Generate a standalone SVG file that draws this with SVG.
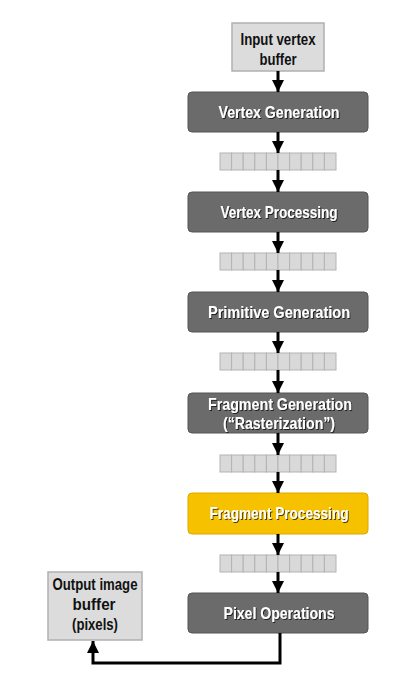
<svg xmlns="http://www.w3.org/2000/svg" width="410" height="689" viewBox="0 0 410 689">
<defs>
<marker id="ah" markerUnits="userSpaceOnUse" markerWidth="14" markerHeight="12" refX="12" refY="6" orient="auto">
<path d="M0,0 L12,6 L0,12 Z" fill="#000"/>
</marker>
<filter id="sh" x="-10%" y="-30%" width="120%" height="160%">
<feDropShadow dx="1" dy="1" stdDeviation="0.6" flood-color="#000" flood-opacity="0.7"/>
</filter>
<g id="q">
<rect x="0" y="0" width="11.6" height="17"/>
<rect x="11.6" y="0" width="11.6" height="17"/>
<rect x="23.2" y="0" width="11.6" height="17"/>
<rect x="34.8" y="0" width="11.6" height="17"/>
<rect x="46.4" y="0" width="11.6" height="17"/>
<rect x="58" y="0" width="11.6" height="17"/>
<rect x="69.6" y="0" width="11.6" height="17"/>
<rect x="81.2" y="0" width="11.6" height="17"/>
<rect x="92.8" y="0" width="11.6" height="17"/>
<rect x="104.4" y="0" width="11.6" height="17"/>
</g>
</defs>
<style>
text{font-family:"Liberation Sans",Arial,sans-serif;font-weight:bold;font-size:16.5px;text-anchor:middle}
.stage rect{fill:#6b6b6b;stroke:#555;stroke-width:1}
.stage text{fill:#fff;filter:url(#sh)}
.hot rect{fill:#f6c200;stroke:#dca800;stroke-width:1}
.hot text{fill:#fff;filter:url(#sh)}
.buf rect{fill:#dcdcdc;stroke:#b0b0b0;stroke-width:1.5}
.buf text{fill:#111;font-size:16px}
.queue use{fill:#d9d9d9;stroke:#b3b3b3;stroke-width:1}
.conn line,.conn path{stroke:#000;stroke-width:3;fill:none}
</style>
<rect width="410" height="689" fill="#fff"/>

<g id="input-buffer" class="buf">
<rect x="232" y="23" width="92" height="48"/>
<text x="278" y="45" textLength="75" lengthAdjust="spacingAndGlyphs">Input vertex</text>
<text x="278" y="65" textLength="37" lengthAdjust="spacingAndGlyphs">buffer</text>
</g>

<g id="vertex-generation" class="stage">
<rect x="188" y="92" width="180" height="40" rx="4"/>
<text x="279" y="118" textLength="121" lengthAdjust="spacingAndGlyphs">Vertex Generation</text>
</g>

<g id="vertex-processing" class="stage">
<rect x="188" y="192" width="180" height="40" rx="4"/>
<text x="279" y="218" textLength="117" lengthAdjust="spacingAndGlyphs">Vertex Processing</text>
</g>

<g id="primitive-generation" class="stage">
<rect x="188" y="292" width="180" height="40" rx="4"/>
<text x="279" y="318" textLength="142" lengthAdjust="spacingAndGlyphs">Primitive Generation</text>
</g>

<g id="fragment-generation" class="stage">
<rect x="188" y="393" width="180" height="40" rx="4"/>
<text x="280" y="410" textLength="144" lengthAdjust="spacingAndGlyphs">Fragment Generation</text>
<text x="279" y="429" textLength="112" lengthAdjust="spacingAndGlyphs">(“Rasterization”)</text>
</g>

<g id="fragment-processing" class="hot">
<rect x="188" y="493" width="180" height="41" rx="4"/>
<text x="279" y="519" textLength="139" lengthAdjust="spacingAndGlyphs">Fragment Processing</text>
</g>

<g id="pixel-operations" class="stage">
<rect x="188" y="593" width="180" height="40" rx="4"/>
<text x="279" y="619" textLength="111" lengthAdjust="spacingAndGlyphs">Pixel Operations</text>
</g>

<g id="output-buffer" class="buf">
<rect x="48" y="572" width="94" height="68"/>
<text x="95" y="590" textLength="85" lengthAdjust="spacingAndGlyphs">Output image</text>
<text x="94" y="610" textLength="43" lengthAdjust="spacingAndGlyphs">buffer</text>
<text x="95" y="630" textLength="46" lengthAdjust="spacingAndGlyphs">(pixels)</text>
</g>

<g id="queues" class="queue">
<use href="#q" x="220" y="153"/>
<use href="#q" x="220" y="253"/>
<use href="#q" x="220" y="353"/>
<use href="#q" x="220" y="455"/>
<use href="#q" x="220" y="555"/>
</g>

<g id="connectors" class="conn">
<line x1="278" y1="71" x2="278" y2="92" marker-end="url(#ah)"/>
<line x1="278" y1="132" x2="278" y2="153" marker-end="url(#ah)"/>
<line x1="278" y1="170" x2="278" y2="192" marker-end="url(#ah)"/>
<line x1="278" y1="232" x2="278" y2="253" marker-end="url(#ah)"/>
<line x1="278" y1="270" x2="278" y2="292" marker-end="url(#ah)"/>
<line x1="278" y1="332" x2="278" y2="353" marker-end="url(#ah)"/>
<line x1="278" y1="370" x2="278" y2="393" marker-end="url(#ah)"/>
<line x1="278" y1="433" x2="278" y2="455" marker-end="url(#ah)"/>
<line x1="278" y1="472" x2="278" y2="493" marker-end="url(#ah)"/>
<line x1="278" y1="534" x2="278" y2="555" marker-end="url(#ah)"/>
<line x1="278" y1="572" x2="278" y2="593" marker-end="url(#ah)"/>
<path d="M280,633 L280,663 L93,663 L93,641" marker-end="url(#ah)"/>
</g>
</svg>
